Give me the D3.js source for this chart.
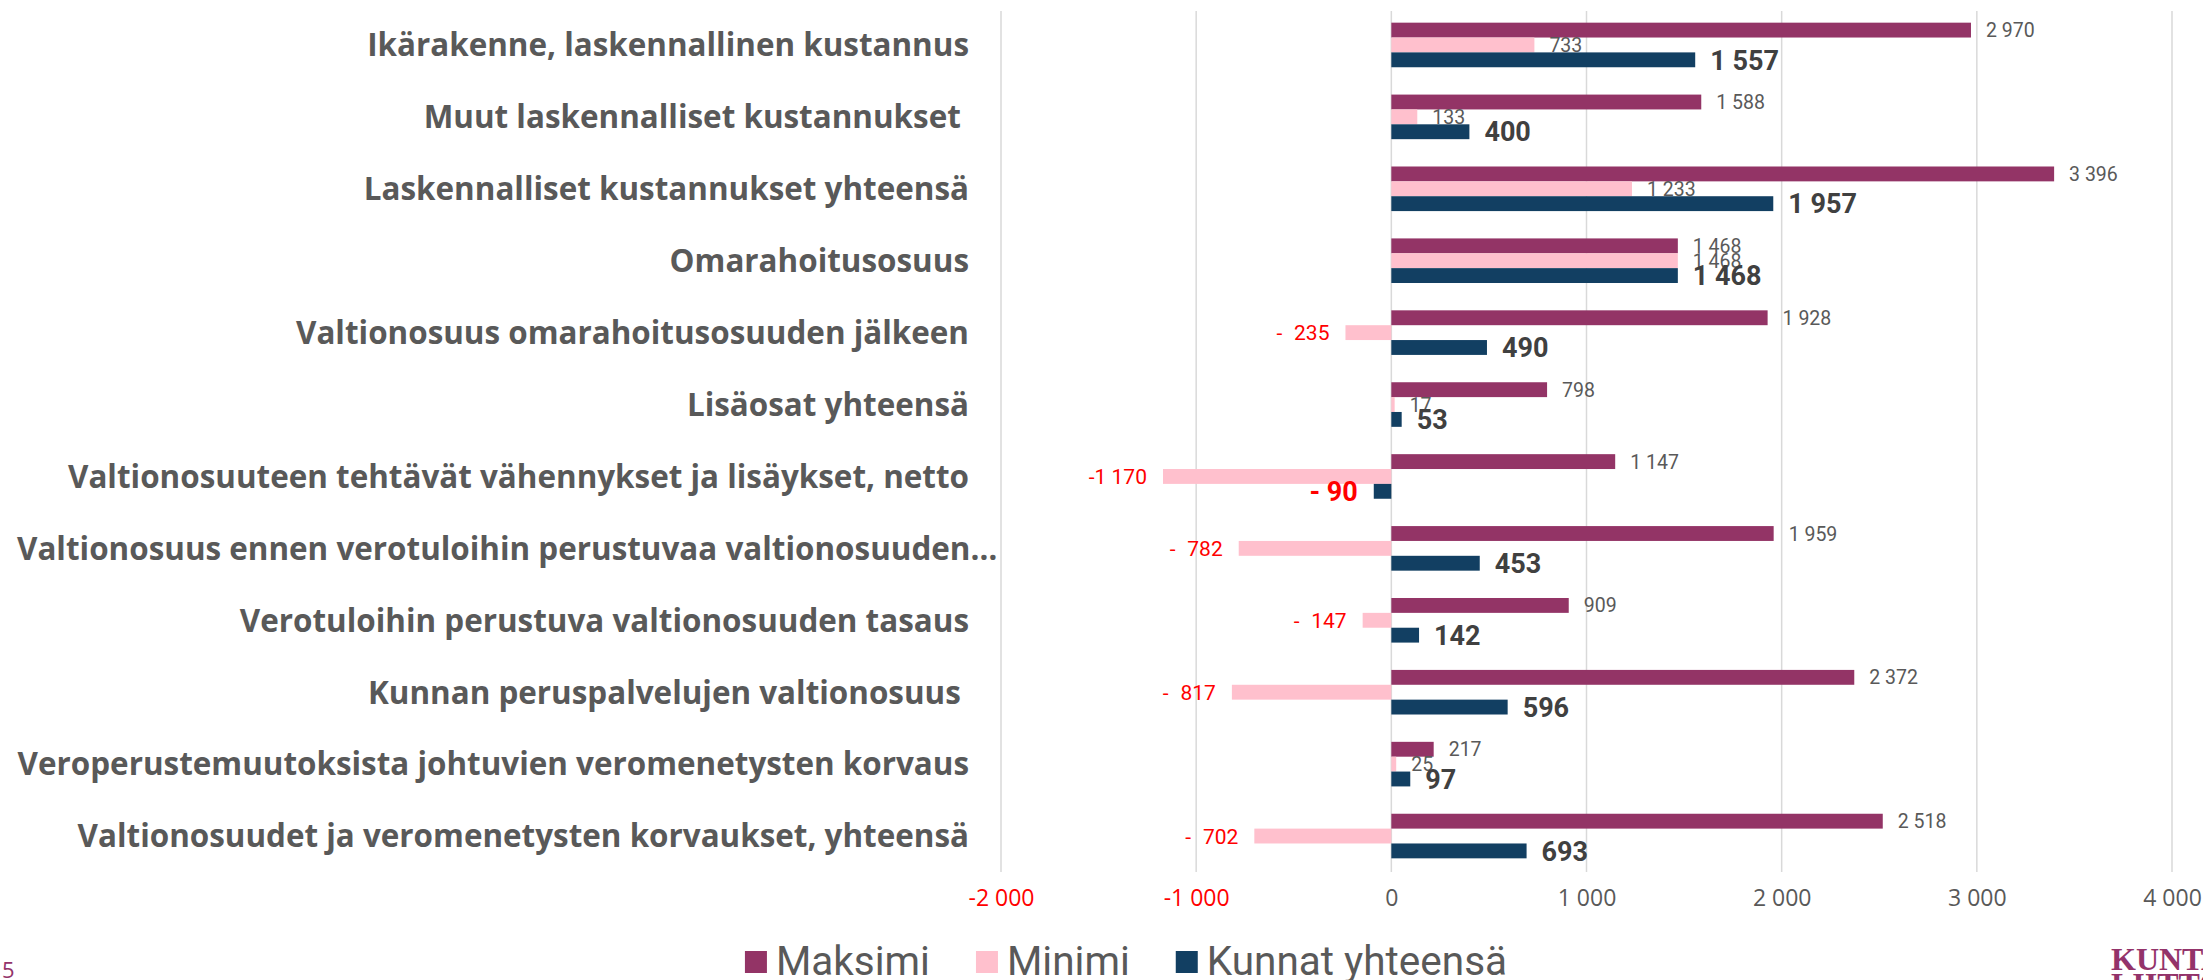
<!DOCTYPE html>
<html>
<head>
<meta charset="utf-8">
<script src="https://cdn.jsdelivr.net/npm/d3@7"></script>
<style>
  body { margin: 0; background: #fff; }
  svg { display: block; }
</style>
</head>
<body>
<div id="chart"></div>
<script>
// data
var categories = [
  "Ikärakenne, laskennallinen kustannus",
  "Muut laskennalliset kustannukset ",
  "Laskennalliset kustannukset yhteensä",
  "Omarahoitusosuus",
  "Valtionosuus omarahoitusosuuden jälkeen",
  "Lisäosat yhteensä",
  "Valtionosuuteen tehtävät vähennykset ja lisäykset, netto",
  "Valtionosuus ennen verotuloihin perustuvaa valtionosuuden tasausta",
  "Verotuloihin perustuva valtionosuuden tasaus",
  "Kunnan peruspalvelujen valtionosuus ",
  "Veroperustemuutoksista johtuvien veromenetysten korvaus",
  "Valtionosuudet ja veromenetysten korvaukset, yhteensä"
];
var maksimi = [2970, 1588, 3396, 1468, 1928, 798, 1147, 1959, 909, 2372, 217, 2518];
var minimi = [733, 133, 1233, 1468, -235, 17, -1170, -782, -147, -817, 25, -702];
var kunnat = [1557, 400, 1957, 1468, 490, 53, -90, 453, 142, 596, 97, 693];
var seriesNames = ["Maksimi", "Minimi", "Kunnat yhteensä"];
var xTicks = [-2000, -1000, 0, 1000, 2000, 3000, 4000];

var W = 2203, H = 980;
var colors = ["#933466", "#ffc0cd", "#123f62"];
var grey = "#595959";

var loc = d3.formatLocale({decimal: ",", thousands: "\u00a0", grouping: [3], currency: ["", ""]});
var fmt = loc.format(",.0f");
function valueText(v, bold) {
  if (v >= 0) return fmt(v);
  var a = Math.abs(v);
  if (a >= 1000) return "-" + fmt(a);
  return (bold ? "- " : "-\u2007") + fmt(a);
}

var svg = d3.select("#chart").append("svg")
  .attr("width", W).attr("height", H);

var x = d3.scaleLinear().domain([-2000, 4000]).range([1001, 2172]);
var y = d3.scaleBand().domain(categories).range([9, 872])
  .paddingInner(0.38).paddingOuter(0.19);
var ySub = d3.scaleBand().domain(seriesNames).range([0, y.bandwidth()]);

// gridlines
svg.append("g").selectAll("line")
  .data(xTicks).enter().append("line")
  .attr("x1", function(d) { return x(d); })
  .attr("x2", function(d) { return x(d); })
  .attr("y1", 11).attr("y2", 872)
  .attr("stroke", "#d9d9d9").attr("stroke-width", 1.5);

// x axis labels
var xAxis = d3.axisBottom(x).tickValues(xTicks).tickSize(0).tickPadding(0)
  .tickFormat(function(d) { return d < 0 ? "-" + fmt(-d) : fmt(d); });
var ax = svg.append("g").attr("transform", "translate(0,890)").call(xAxis);
ax.select(".domain").remove();
ax.selectAll("text")
  .attr("font-family", "'Open Sans', sans-serif")
  .attr("font-size", 23)
  .attr("fill", function(d) { return d < 0 ? "#ff0000" : grey; });

// bars
var all = [maksimi, minimi, kunnat];
var groups = svg.append("g").selectAll("g")
  .data(categories).enter().append("g")
  .attr("transform", function(d) { return "translate(0," + y(d) + ")"; });

groups.each(function(cat, i) {
  var g = d3.select(this);
  seriesNames.forEach(function(s, j) {
    var v = all[j][i];
    g.append("rect")
      .attr("x", x(Math.min(0, v)))
      .attr("width", Math.abs(x(v) - x(0)))
      .attr("y", ySub(s))
      .attr("height", ySub.bandwidth())
      .attr("fill", colors[j]);

    var bold = j === 2;
    var t = g.append("text")
      .attr("y", ySub(s) + ySub.bandwidth() / 2)
      .attr("dy", "0.36em")
      .attr("font-family", "Roboto, sans-serif")
      .attr("font-size", bold ? 27 : (v < 0 ? 21 : 19.5))
      .attr("font-weight", bold ? 700 : 400)
      .attr("fill", v < 0 ? "#ff0000" : (bold ? "#404040" : grey))
      .text(valueText(v, bold));
    if (v < 0) {
      t.attr("x", x(v) - 16).attr("text-anchor", "end");
    } else {
      t.attr("x", x(v) + 15).attr("text-anchor", "start");
    }
  });
});

// category labels (too long ones get cut with an ellipsis)
var labelRight = 969, labelLeft = 17, labelMax = 1000 - 17;
var labels = svg.append("g").selectAll("text")
  .data(categories).enter().append("text")
  .attr("x", labelRight)
  .attr("y", function(d) { return y(d) + y.bandwidth() / 2; })
  .attr("dy", "0.36em")
  .attr("text-anchor", "end")
  .attr("font-family", "'Open Sans', sans-serif")
  .attr("font-weight", 700)
  .attr("font-size", 31.4)
  .attr("fill", grey)
  .style("white-space", "pre")
  .text(function(d) { return d; });

labels.each(function(d) {
  var el = d3.select(this);
  if (this.getComputedTextLength() > labelRight - 2) {
    var s = d;
    while (s.length > 1) {
      s = s.slice(0, -1);
      el.text(s.trimEnd() + "…");
      if (this.getComputedTextLength() <= labelMax) break;
    }
    el.attr("x", labelLeft).attr("text-anchor", "start");
  }
});

// legend
var legend = svg.append("g");
var lx = 0;
seriesNames.forEach(function(s, j) {
  var item = legend.append("g").attr("transform", "translate(" + lx + ",0)");
  item.append("rect").attr("x", 0).attr("y", 951).attr("width", 22).attr("height", 22)
    .attr("fill", colors[j]);
  var t = item.append("text").attr("x", 31).attr("y", 975)
    .attr("font-family", "Roboto, sans-serif")
    .attr("font-size", 40.5)
    .attr("fill", grey)
    .text(s);
  lx += 31 + t.node().getComputedTextLength() + 46;
});
var legendW = lx - 46;
legend.attr("transform", "translate(" + (1126 - legendW / 2) + ",0)");

// page number
svg.append("text").attr("x", 2).attr("y", 978)
  .attr("font-family", "'Open Sans', sans-serif")
  .attr("font-size", 22).attr("fill", "#93336a").text("5");

// logo (cut off at the page edge)
var logo = svg.append("g")
  .attr("font-family", "'Liberation Serif', serif")
  .attr("font-weight", 700).attr("font-size", 32).attr("fill", "#93336a");
logo.append("text").attr("x", 2111).attr("y", 970).text("KUNTA");
logo.append("text").attr("x", 2111).attr("y", 995).text("LIITTO");
</script>
</body>
</html>
